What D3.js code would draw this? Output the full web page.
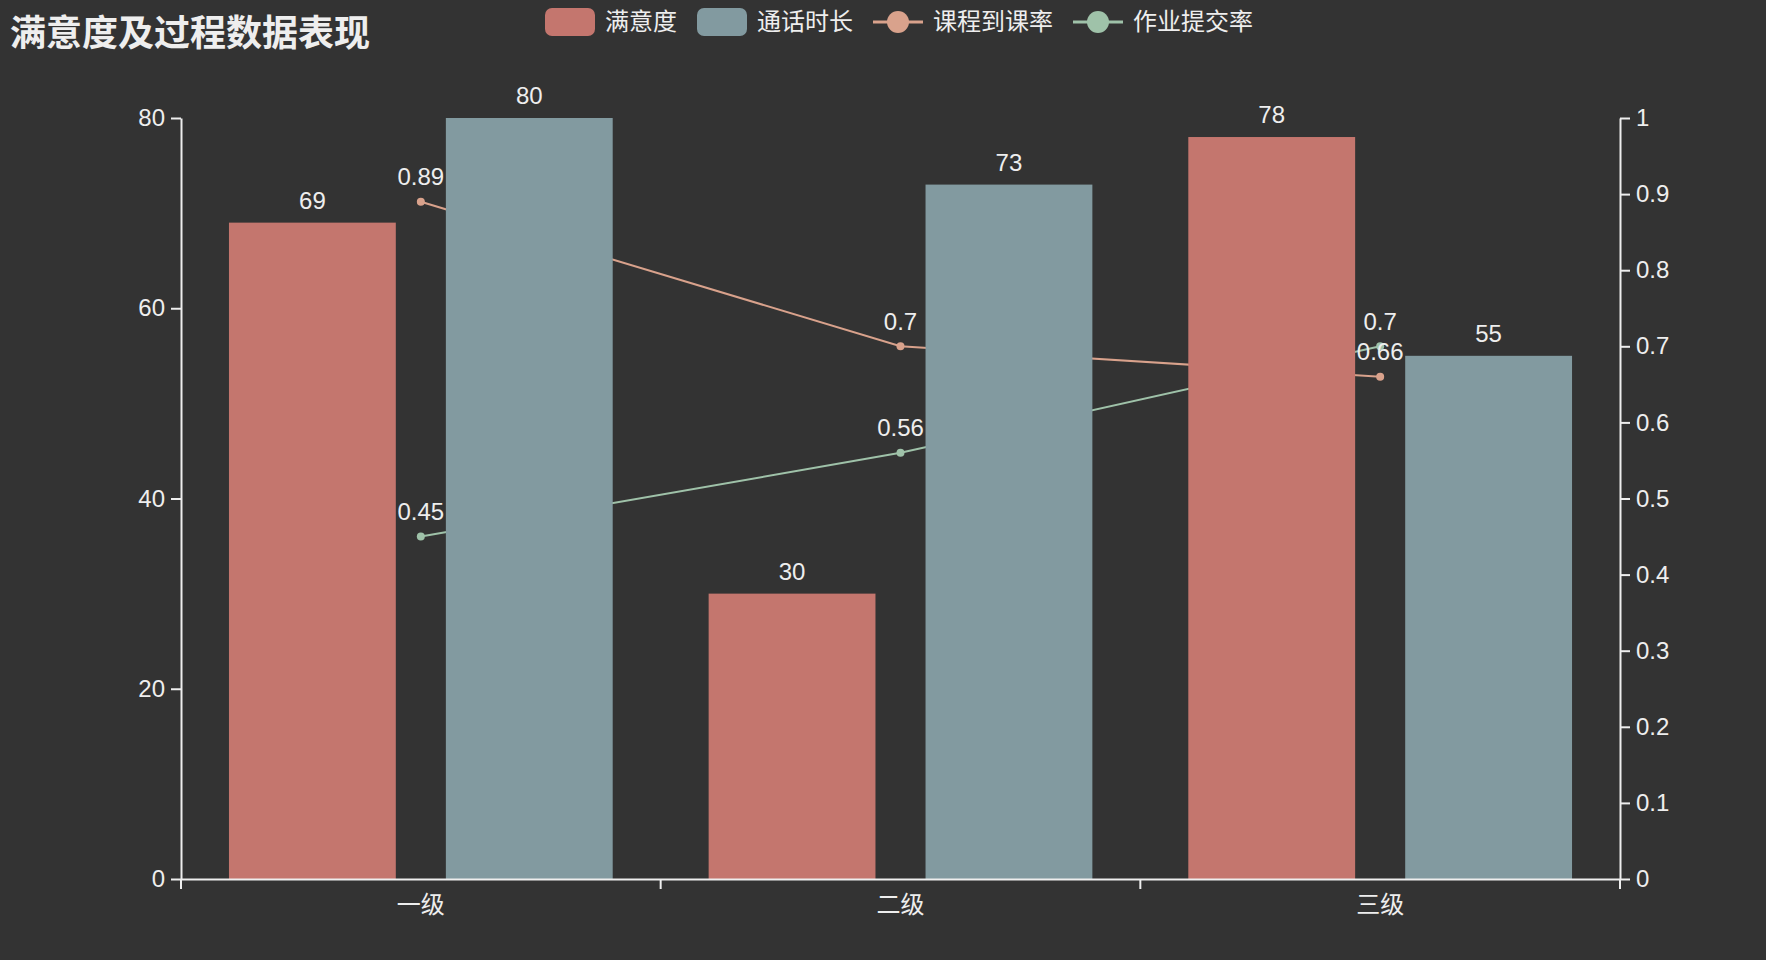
<!DOCTYPE html>
<html>
<head>
<meta charset="utf-8">
<script src="https://cdn.jsdelivr.net/npm/d3@7"></script>
<style>
  html, body { margin: 0; padding: 0; background: #333333; }
  svg { display: block; }
  text { font-family: "Liberation Sans", Arial, "Noto Sans CJK SC", sans-serif; fill: #eeeeee; }
</style>
</head>
<body>
<div id="chart"></div>
<script>
const categories = ["一级", "二级", "三级"];
const satisfaction = [69, 30, 78];      // 满意度
const callDuration = [80, 73, 55];      // 通话时长
const attendRate = [0.89, 0.7, 0.66];   // 课程到课率
const homeworkRate = [0.45, 0.56, 0.7]; // 作业提交率
const leftTicks = [0, 20, 40, 60, 80];
const rightTicks = [0, 0.1, 0.2, 0.3, 0.4, 0.5, 0.6, 0.7, 0.8, 0.9, 1];

const width = 1766, height = 960;
const margin = { top: 118, right: 146, bottom: 81, left: 181 };
const innerW = width - margin.left - margin.right;
const innerH = height - margin.top - margin.bottom;

const colors = {
    bar1: "#c4766e",
    bar2: "#829aa0",
    line1: "#d9a28c",
    line2: "#9fc2a9"
};

const svg = d3.select("#chart").append("svg")
    .attr("width", width)
    .attr("height", height);

svg.append("rect").attr("width", width).attr("height", height).attr("fill", "#333333");

// title
svg.append("text")
    .attr("x", 10)
    .attr("y", 46)
    .attr("font-size", "36px")
    .attr("font-weight", "bold")
    .style("font-family", "'Noto Sans CJK SC', sans-serif")
    .text("满意度及过程数据表现");

// legend
const legendItems = [
    { name: "满意度", type: "bar", color: colors.bar1 },
    { name: "通话时长", type: "bar", color: colors.bar2 },
    { name: "课程到课率", type: "line", color: colors.line1 },
    { name: "作业提交率", type: "line", color: colors.line2 }
];
const legend = svg.append("g").attr("transform", "translate(0, 22)");
let lx = 545;
legendItems.forEach(item => {
    const g = legend.append("g").attr("transform", `translate(${lx}, 0)`);
    if (item.type === "bar") {
        g.append("rect")
            .attr("x", 0).attr("y", -14)
            .attr("width", 50).attr("height", 28)
            .attr("rx", 7).attr("ry", 7)
            .attr("fill", item.color);
    } else {
        g.append("line")
            .attr("x1", 0).attr("x2", 50)
            .attr("y1", 0).attr("y2", 0)
            .attr("stroke", item.color).attr("stroke-width", 3);
        g.append("circle")
            .attr("cx", 25).attr("cy", 0).attr("r", 11)
            .attr("fill", item.color);
    }
    const t = g.append("text")
        .attr("x", 60)
        .attr("y", 0)
        .attr("dy", "0.35em")
        .attr("font-size", "24px")
        .style("font-family", "'Noto Sans CJK SC', sans-serif")
        .text(item.name);
    lx += 60 + t.node().getComputedTextLength() + 20;
});

const plot = svg.append("g").attr("transform", `translate(${margin.left}, ${margin.top})`);

const x0 = d3.scaleBand().domain(categories).range([0, innerW]).paddingInner(0).paddingOuter(0);
const bw = x0.bandwidth();
const barW = bw * 0.8 / 2.3;
const x1 = d3.scaleOrdinal().domain([0, 1]).range([bw * 0.1, bw * 0.1 + barW * 1.3]);

const yL = d3.scaleLinear().domain([0, 80]).range([innerH, 0]);
const yR = d3.scaleLinear().domain([0, 1]).range([innerH, 0]);

// lines (drawn beneath bars)
const lineSeries = [
    { values: attendRate, color: colors.line1 },
    { values: homeworkRate, color: colors.line2 }
];
const lineGen = d3.line()
    .x((d, i) => x0(categories[i]) + bw / 2)
    .y(d => yR(d));

lineSeries.forEach(s => {
    plot.append("path")
        .datum(s.values)
        .attr("fill", "none")
        .attr("stroke", s.color)
        .attr("stroke-width", 2)
        .attr("d", lineGen);
    plot.selectAll(null)
        .data(s.values)
        .enter().append("circle")
        .attr("cx", (d, i) => x0(categories[i]) + bw / 2)
        .attr("cy", d => yR(d))
        .attr("r", 4)
        .attr("fill", s.color);
});

// bars
const barSeries = [
    { values: satisfaction, color: colors.bar1 },
    { values: callDuration, color: colors.bar2 }
];
barSeries.forEach((s, si) => {
    plot.selectAll(null)
        .data(s.values)
        .enter().append("rect")
        .attr("x", (d, i) => x0(categories[i]) + x1(si))
        .attr("y", d => yL(d))
        .attr("width", barW)
        .attr("height", d => innerH - yL(d))
        .attr("fill", s.color);
});

// axes
const axisColor = "#eeeeee";
const leftAxis = plot.append("g")
    .call(d3.axisLeft(yL).tickValues(leftTicks).tickSize(10).tickPadding(6).tickSizeOuter(0));
const rightAxis = plot.append("g")
    .attr("transform", `translate(${innerW}, 0)`)
    .call(d3.axisRight(yR).tickValues(rightTicks).tickSize(10).tickPadding(6).tickSizeOuter(0)
        .tickFormat(d => d3.format("~g")(d)));
const bottomAxis = plot.append("g")
    .attr("transform", `translate(0, ${innerH})`)
    .call(d3.axisBottom(x0).tickSize(0).tickPadding(16).tickSizeOuter(0));

[leftAxis, rightAxis, bottomAxis].forEach(a => {
    a.select(".domain").attr("stroke", axisColor).attr("stroke-width", 2);
    a.selectAll(".tick line").attr("stroke", axisColor).attr("stroke-width", 2);
    a.selectAll(".tick text").attr("fill", axisColor).attr("font-size", "24px")
        .style("font-family", "'Liberation Sans', Arial, sans-serif");
});
bottomAxis.selectAll(".tick text")
    .style("font-family", "'Noto Sans CJK SC', sans-serif")
    .attr("dy", "0.75em");

// category boundary ticks on the x axis
const boundaries = categories.map(c => x0(c)).concat([innerW]);
bottomAxis.selectAll(null)
    .data(boundaries)
    .enter().append("line")
    .attr("x1", d => d).attr("x2", d => d)
    .attr("y1", 0).attr("y2", 10)
    .attr("stroke", axisColor).attr("stroke-width", 2);

// bar labels
barSeries.forEach((s, si) => {
    plot.selectAll(null)
        .data(s.values)
        .enter().append("text")
        .attr("x", (d, i) => x0(categories[i]) + x1(si) + barW / 2)
        .attr("y", d => yL(d) - 22)
        .attr("dy", "0.35em")
        .attr("text-anchor", "middle")
        .attr("font-size", "24px")
        .text(d => d);
});

// line labels
lineSeries.forEach(s => {
    plot.selectAll(null)
        .data(s.values)
        .enter().append("text")
        .attr("x", (d, i) => x0(categories[i]) + bw / 2)
        .attr("y", d => yR(d) - 25)
        .attr("dy", "0.35em")
        .attr("text-anchor", "middle")
        .attr("font-size", "24px")
        .text(d => d);
});
</script>
</body>
</html>
